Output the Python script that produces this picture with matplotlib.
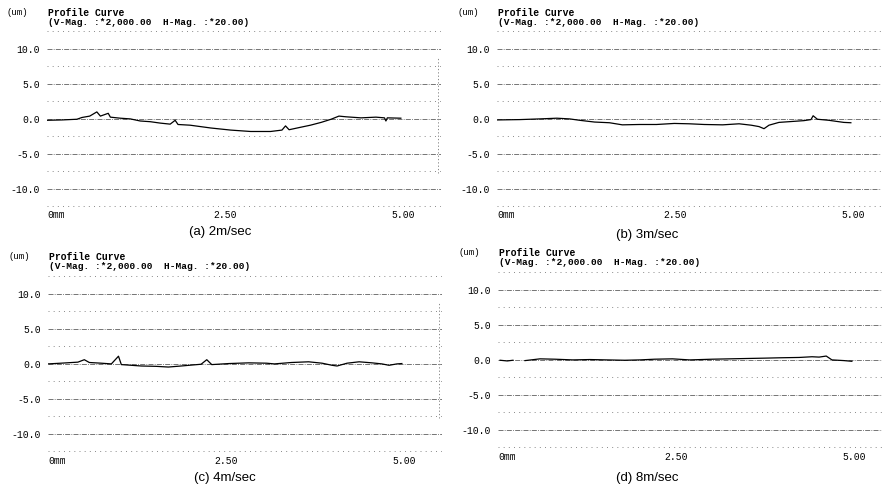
import numpy as np
import matplotlib.pyplot as plt

# surface profile traces: position (mm) and height (um)
x_a = [0.0, 0.21, 0.42, 0.49, 0.60, 0.70, 0.75, 0.86, 0.89, 1.03, 1.17, 1.31, 1.45, 1.59,
       1.73, 1.80, 1.84, 2.01, 2.30, 2.58, 2.86, 3.14, 3.30, 3.35, 3.40, 3.56, 3.70, 3.85,
       3.99, 4.10, 4.20, 4.41, 4.62, 4.74, 4.76, 4.78, 4.97]
z_a = [-0.2, -0.15, -0.05, 0.2, 0.4, 1.0, 0.4, 0.8, 0.25, 0.1, 0.0, -0.3, -0.4, -0.6,
       -0.75, -0.2, -0.8, -0.9, -1.3, -1.6, -1.8, -1.8, -1.6, -1.0, -1.55, -1.2, -0.9, -0.5,
       -0.05, 0.4, 0.3, 0.15, 0.25, 0.15, -0.3, 0.15, 0.1]

x_b = [0.0, 0.32, 0.60, 0.84, 1.02, 1.16, 1.37, 1.58, 1.76, 2.00, 2.24, 2.49, 2.70, 2.91,
       3.17, 3.40, 3.57, 3.68, 3.75, 3.82, 3.96, 4.17, 4.31, 4.41, 4.44, 4.50, 4.66, 4.87, 4.97]
z_b = [-0.15, -0.1, 0.0, 0.1, 0.0, -0.2, -0.45, -0.55, -0.85, -0.8, -0.8, -0.65, -0.7, -0.8,
       -0.85, -0.7, -0.9, -1.1, -1.4, -0.9, -0.5, -0.35, -0.25, -0.1, 0.45, -0.05, -0.2, -0.5, -0.55]

x_c = [0.0, 0.18, 0.42, 0.51, 0.58, 0.75, 0.89, 0.99, 1.03, 1.31, 1.52, 1.69, 1.87, 2.15,
       2.23, 2.30, 2.54, 2.82, 3.07, 3.18, 3.42, 3.66, 3.85, 3.99, 4.06, 4.20, 4.37, 4.55,
       4.69, 4.79, 4.90, 4.97]
z_c = [0.0, 0.1, 0.25, 0.6, 0.2, 0.1, 0.0, 1.1, -0.1, -0.3, -0.35, -0.45, -0.3, -0.05,
       0.6, -0.1, 0.05, 0.15, 0.1, 0.0, 0.2, 0.3, 0.1, -0.2, -0.3, 0.1, 0.3, 0.15,
       0.0, -0.2, 0.0, 0.05]

x_d = [0.03, 0.13, 0.21, np.nan, 0.38, 0.59, 0.80, 1.05, 1.29, 1.53, 1.78, 1.99, 2.20,
       2.45, 2.69, 3.01, 3.25, 3.49, 3.74, 3.95, 4.23, 4.41, 4.51, 4.61, 4.69, 4.86, 4.97]
z_d = [-0.05, -0.15, -0.05, np.nan, -0.1, 0.15, 0.1, 0.0, 0.05, 0.0, -0.05, 0.0, 0.1,
       0.15, 0.0, 0.1, 0.15, 0.2, 0.25, 0.3, 0.35, 0.45, 0.4, 0.55, 0.0, -0.1, -0.2]

captions = ['(a) 2m/sec', '(b) 3m/sec', '(c) 4m/sec', '(d) 8m/sec']
y_ticks = [10, 5, 0, -5, -10]
y_tick_labels = ['10.0', '5.0', '0.0', '-5.0', '-10.0']
x_ticks = [0, 2.5, 5]
x_tick_labels = ['0mm', '2.50', '5.00']
grid_levels = [12.5, 10, 7.5, 5, 2.5, 0, -2.5, -5, -7.5, -10, -12.5]

W, H = 884, 484
mono = 'Liberation Mono'


def px(x, y):
    return x / W, 1 - y / H


fig = plt.figure(figsize=(W / 100, H / 100), dpi=100)

# left edge / top edge of each panel in pixels, plus x extent in mm
layout = [
    dict(left=47, top=24.5, xmax=5.535, cap=(220, 232)),
    dict(left=497, top=24.5, xmax=5.40, cap=(647, 235)),
    dict(left=48, top=269.5, xmax=5.535, cap=(225, 478)),
    dict(left=498, top=265.5, xmax=5.40, cap=(647, 478)),
]
traces = [(x_a, z_a), (x_b, z_b), (x_c, z_c), (x_d, z_d)]

for i, (lay, (xs, zs)) in enumerate(zip(layout, traces)):
    w_px = lay['xmax'] * 71.2
    h_px = 186
    l, t = px(lay['left'], lay['top'])
    ax = fig.add_axes([l, t - h_px / H, w_px / W, h_px / H])
    ax.set_xlim(0, lay['xmax'])
    ax.set_ylim(-13.1, 13.5)
    for s in ax.spines.values():
        s.set_visible(False)

    for lev in grid_levels:
        if lev % 5 == 0:
            ax.axhline(lev, color='#5e5e5e', lw=0.6, dashes=(6, 1.5, 1, 1.5), zorder=1)
        else:
            ax.axhline(lev, color='#7a7a7a', lw=0.6, dashes=(1.2, 5), zorder=1)
    if i in (0, 2):
        ax.axvline(lay['xmax'] - 0.04, ymin=0.2, ymax=0.82, color='#777777',
                   lw=0.6, dashes=(1.5, 2.5))

    ax.plot(xs, zs, color='black', lw=0.9, zorder=3)

    ax.set_yticks(y_ticks)
    ax.set_yticklabels(y_tick_labels, fontfamily=mono, fontsize=7)
    ax.set_xticks(x_ticks)
    ax.set_xticklabels(x_tick_labels, fontfamily=mono, fontsize=7)
    ax.get_xticklabels()[0].set_horizontalalignment('left')
    ax.tick_params(axis='y', length=0, pad=5)
    ax.tick_params(axis='x', length=0, pad=0)

    hx = lay['left']
    hy = lay['top'] - 12 if i < 2 else lay['top'] - 13
    fig.text(*px(hx - 40, hy), '(um)', fontfamily=mono, fontsize=6.5, va='center')
    fig.text(*px(hx + 1, hy), 'Profile Curve', fontfamily=mono, fontsize=7,
             fontweight='bold', va='center')
    fig.text(*px(hx + 1, hy + 10), '(V-Mag. :*2,000.00  H-Mag. :*20.00)',
             fontfamily=mono, fontsize=6.8, fontweight='bold', va='center')

    fig.text(*px(*lay['cap']), captions[i], fontfamily='Liberation Sans',
             fontsize=9.5, ha='center', va='center')

fig.savefig('out.png', dpi=100)
